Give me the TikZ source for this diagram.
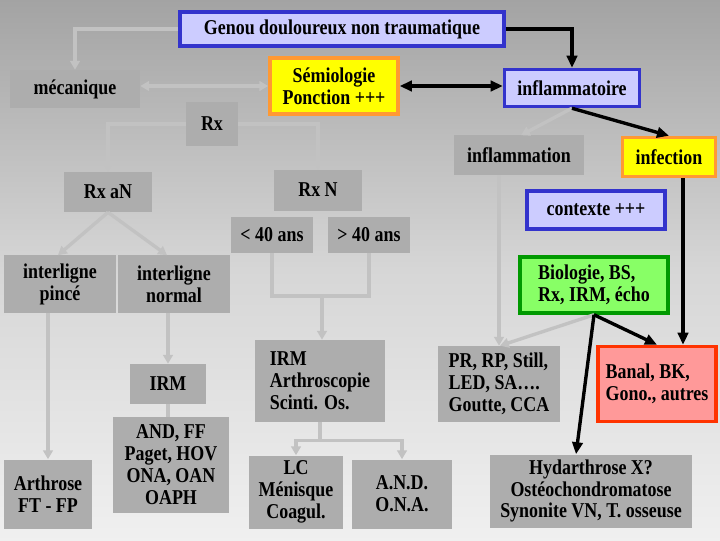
\documentclass[tikz,border=0pt]{standalone}
\usepackage{fontspec}
\setmainfont{Liberation Serif}[FakeStretch=0.85]
\usetikzlibrary{arrows.meta, calc, positioning}

\definecolor{greyfill}{HTML}{ADADAD}
\definecolor{paleline}{HTML}{C2C2C2}
\definecolor{lavender}{HTML}{CCCCFF}
\definecolor{blueline}{HTML}{3333CC}
\definecolor{yellowfill}{HTML}{FFFF00}
\definecolor{orangeline}{HTML}{FF9933}
\definecolor{greenfill}{HTML}{88FF66}
\definecolor{greenline}{HTML}{009900}
\definecolor{redfill}{HTML}{FF9999}
\definecolor{redline}{HTML}{FF3300}

\pgfdeclareverticalshading{bgfade}{100bp}{color(0bp)=(white); color(20bp)=(black!4);
  color(50bp)=(black!16); color(75bp)=(black!36); color(100bp)=(black!50)}

\begin{document}
\begin{tikzpicture}[x=0.025cm, y=-0.025cm,
    font=\fontsize{15}{15.6}\selectfont\bfseries,
    greybox/.style={fill=greyfill, inner sep=2pt, align=center},
    bluebox/.style={fill=lavender, draw=blueline, line width=2.5pt, inner sep=2pt, align=center},
    yellowbox/.style={fill=yellowfill, draw=orangeline, line width=2.5pt, inner sep=2pt, align=center},
    greenbox/.style={fill=greenfill, draw=greenline, line width=2.5pt, inner sep=2pt, align=left},
    redbox/.style={fill=redfill, draw=redline, line width=2.5pt, inner sep=2pt, align=left},
    pale/.style={-{Triangle[length=2.2mm, width=2.4mm]}, line width=2.4pt, paleline},
    paleboth/.style={{Triangle[length=2.2mm, width=2.4mm]}-{Triangle[length=2.2mm, width=2.4mm]}, line width=2.4pt, paleline},
    strong/.style={-{Triangle[length=3mm, width=2.6mm]}, line width=2.4pt, black},
    strongboth/.style={{Triangle[length=3mm, width=2.6mm]}-{Triangle[length=3mm, width=2.6mm]}, line width=2.4pt, black}]

% background
\useasboundingbox (0,0) rectangle (720,540);
\shade[shading=bgfade] (0,0) rectangle (720,540);

% top row
\node[bluebox, minimum width=8.1cm, minimum height=0.85cm] (genou) at (342,29) {Genou douloureux non traumatique};
\node[greybox, minimum width=3.25cm, minimum height=0.95cm] (meca) at (75,89) {mécanique};
\node[yellowbox, minimum width=3.2cm, minimum height=1.4cm] (semio) at (334,86) {Sémiologie\\Ponction +++};
\node[bluebox, minimum width=3.375cm, minimum height=0.925cm] (inflt) at (572,88) {inflammatoire};

% mechanical branch
\node[greybox, minimum width=1.275cm, minimum height=1.075cm] (rx) at (212,124) {Rx};
\node[greybox, minimum width=2.2cm, minimum height=1cm] (rxan) at (108,192) {Rx aN};
\node[greybox, minimum width=2.2cm, minimum height=1.025cm] (rxn) at (318,190) {Rx N};
\node[greybox, minimum width=2.025cm, minimum height=0.9cm] (lt40) at (272,235) {< 40 ans};
\node[greybox, minimum width=2.05cm, minimum height=0.9cm] (gt40) at (369,235) {> 40 ans};
\node[greybox, minimum width=2.8cm, minimum height=1.425cm] (ipince) at (60,284) {interligne\\pincé};
\node[greybox, minimum width=2.8cm, minimum height=1.425cm] (inormal) at (174,284) {interligne\\normal};
\node[greybox, minimum width=1.9cm, minimum height=1cm] (irm) at (168,384) {IRM};
\node[greybox, minimum width=2.875cm, minimum height=2.4cm] (andff) at (171,465) {AND, FF\\Paget, HOV\\ONA, OAN\\OAPH};
\node[greybox, minimum width=2.2cm, minimum height=1.725cm] (arth) at (48,494) {Arthrose\\FT - FP};
\node[greybox, minimum width=3.225cm, minimum height=2.05cm, align=left] (irma) at (320,381) {IRM\\Arthroscopie\\Scinti. Os.};
\node[greybox, minimum width=2.325cm, minimum height=1.825cm] (lc) at (296,492) {LC\\Ménisque\\Coagul.};
\node[greybox, minimum width=2.5cm, minimum height=1.725cm] (andna) at (402,494) {A.N.D.\\O.N.A.};

% inflammatory branch
\node[greybox, minimum width=3.25cm, minimum height=0.975cm] (inflam) at (519,155) {inflammation};
\node[yellowbox, minimum width=2.325cm, minimum height=0.975cm] (infect) at (669,157) {infection};
\node[bluebox, minimum width=3.45cm, minimum height=0.95cm] (ctx) at (596,210) {contexte +++};
\node[greenbox, minimum width=3.7cm, minimum height=1.4cm] (bio) at (594,285) {Biologie, BS,\\Rx, IRM, écho};
\node[greybox, minimum width=3.05cm, minimum height=1.9cm, align=left] (pr) at (499,384) {PR, RP, Still,\\LED, SA\dots.\\Goutte, CCA};
\node[redbox, minimum width=2.95cm, minimum height=1.875cm] (banal) at (657,384) {Banal, BK,\\Gono., autres};
\node[greybox, minimum width=5.05cm, minimum height=1.825cm] (hyd) at (591,491) {Hydarthrose X?\\Ostéochondromatose\\Synonite VN, T. osseuse};

% grey connectors
\draw[pale] (genou.west) -| (meca.north);
\draw[paleboth] (semio.west -| meca.east) -- (semio.west);
\draw[pale] (rx.west) -| (rxan.north);
\draw[pale] (rx.east) -| (rxn.north);
\draw[pale] (rxan.south) -- ($(ipince.north)+(-2,0)$);
\draw[pale] (rxan.south) -- ($(inormal.north)+(-7,0)$);
\draw[pale] (arth.north |- ipince.south) -- (arth.north);
\draw[pale] (irm.north |- inormal.south) -- (irm.north);
\draw[line width=2.4pt, paleline] (irm.south) -- (irm.south |- andff.north);
\coordinate (merge) at (322,296);
\draw[line width=2.4pt, paleline] (lt40.south) |- (merge) -| (gt40.south);
\draw[pale] (merge) -- (merge |- irma.north);
\coordinate (split) at ($(irma.south)+(0,18)$);
\draw[line width=2.4pt, paleline] (irma.south) -- (split);
\draw[pale] (split) -| (lc.north);
\draw[pale] (split) -| (andna.north);
\draw[pale] (inflt.south) -- ($(inflam.north)+(2,0)$);
\draw[pale] (pr.north |- inflam.south) -- (pr.north);
\draw[pale] (bio.south) -- ($(pr.north)+(1,0)$);

% black connectors
\draw[strong] (genou.east) -| (inflt.north);
\draw[strongboth] (semio.east) -- (semio.east -| inflt.west);
\draw[strong] (inflt.south) -- (infect.north);
\coordinate (infdrop) at ([xshift=0.35cm]infect.south);
\draw[strong] (infdrop) -- (infdrop |- banal.north);
\draw[strong] (bio.south) -- (banal.north);
\draw[strong] (bio.south) -- ($(hyd.north)+(-15,0)$);
\end{tikzpicture}
\end{document}
